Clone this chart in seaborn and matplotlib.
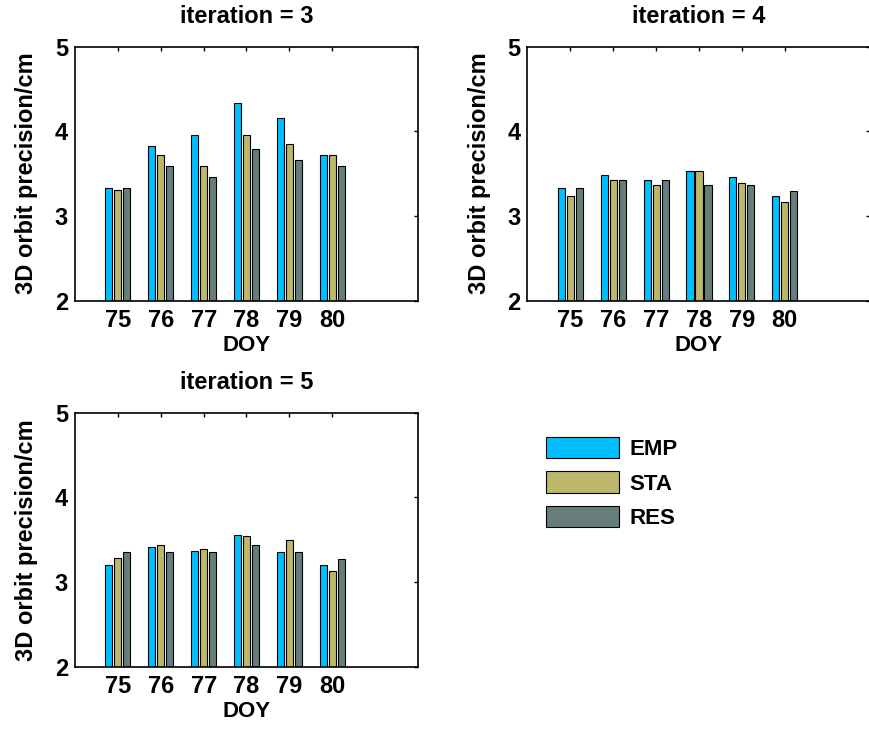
import matplotlib
matplotlib.use("Agg")
import matplotlib.pyplot as plt
import pandas as pd
import seaborn as sns

DOY = [75, 76, 77, 78, 79, 80]
METHODS = ["EMP", "STA", "RES"]
COLORS = ["#00BFFF", "#BDB76B", "#657E7B"]

# 3D orbit precision (cm) per iteration, per method
ITER3_EMP = [3.33, 3.83, 3.96, 4.33, 4.15, 3.72]
ITER3_STA = [3.31, 3.72, 3.59, 3.96, 3.85, 3.72]
ITER3_RES = [3.33, 3.59, 3.46, 3.79, 3.66, 3.59]

ITER4_EMP = [3.33, 3.48, 3.42, 3.53, 3.46, 3.24]
ITER4_STA = [3.24, 3.42, 3.37, 3.53, 3.39, 3.16]
ITER4_RES = [3.33, 3.42, 3.42, 3.37, 3.37, 3.29]

ITER5_EMP = [3.20, 3.41, 3.37, 3.56, 3.35, 3.20]
ITER5_STA = [3.28, 3.44, 3.39, 3.54, 3.50, 3.13]
ITER5_RES = [3.35, 3.35, 3.35, 3.44, 3.35, 3.27]

ITERATIONS = {
    3: (ITER3_EMP, ITER3_STA, ITER3_RES),
    4: (ITER4_EMP, ITER4_STA, ITER4_RES),
    5: (ITER5_EMP, ITER5_STA, ITER5_RES),
}


def to_long(series):
    rows = []
    for method, vals in zip(METHODS, series):
        for d, v in zip(DOY, vals):
            rows.append({"DOY": d, "method": method, "value": v})
    return pd.DataFrame(rows)


sns.set_theme(style="white")
plt.rcParams["font.family"] = ["Liberation Sans", "DejaVu Sans"]
plt.rcParams["font.weight"] = "bold"
plt.rcParams["text.color"] = "black"
plt.rcParams["axes.labelcolor"] = "black"
plt.rcParams["xtick.color"] = "black"
plt.rcParams["ytick.color"] = "black"

fig = plt.figure(figsize=(8.7, 7.33), dpi=100)
W, H = 870.0, 733.0
ax_w, ax_h = 343 / W, 254 / H
positions = {
    3: [75 / W, (H - 300.5) / H, ax_w, ax_h],
    4: [527.5 / W, (H - 300.5) / H, ax_w, ax_h],
    5: [75 / W, (H - 666.7) / H, ax_w, ax_h],
}

handles = labels = None
for it, series in ITERATIONS.items():
    ax = fig.add_axes(positions[it])
    df = to_long(series)
    sns.barplot(
        data=df, x="DOY", y="value", hue="method", hue_order=METHODS,
        palette=COLORS, width=0.63, gap=0.2, edgecolor="black",
        linewidth=0.8, saturation=1, ax=ax, errorbar=None,
    )
    if handles is None:
        handles, labels = ax.get_legend_handles_labels()
    ax.get_legend().remove()

    ax.set_ylim(2, 5)
    ax.set_xlim(-1, 7)
    ax.set_yticks([2, 3, 4, 5])
    ax.set_xticks(range(len(DOY)))
    ax.set_xticklabels([str(d) for d in DOY])
    ax.tick_params(direction="in", top=True, right=True, length=3,
                   width=1, color="black", labelcolor="black", labelsize=17)
    ax.tick_params(axis="x", pad=6)
    ax.tick_params(axis="y", pad=5)
    for sp in ax.spines.values():
        sp.set_color("black")
        sp.set_linewidth(1.2)
    ax.set_xlabel("DOY", fontsize=16, fontweight="bold", labelpad=2,
                  color="black")
    ax.set_ylabel("3D orbit precision/cm", fontsize=17, fontweight="bold",
                  labelpad=12, color="black")
    ax.set_title(f"iteration = {it}", fontsize=17, fontweight="bold", pad=17,
                 color="black")

leg = fig.legend(
    handles, labels, loc="upper left", bbox_to_anchor=(546 / W, 1 - 437 / H),
    frameon=False, handlelength=3.3, handleheight=1.1,
    labelspacing=0.5, handletextpad=0.45, borderpad=0, borderaxespad=0,
    prop={"weight": "bold", "size": 16},
)
for t in leg.get_texts():
    t.set_color("black")

fig.savefig("out.png", dpi=100)
